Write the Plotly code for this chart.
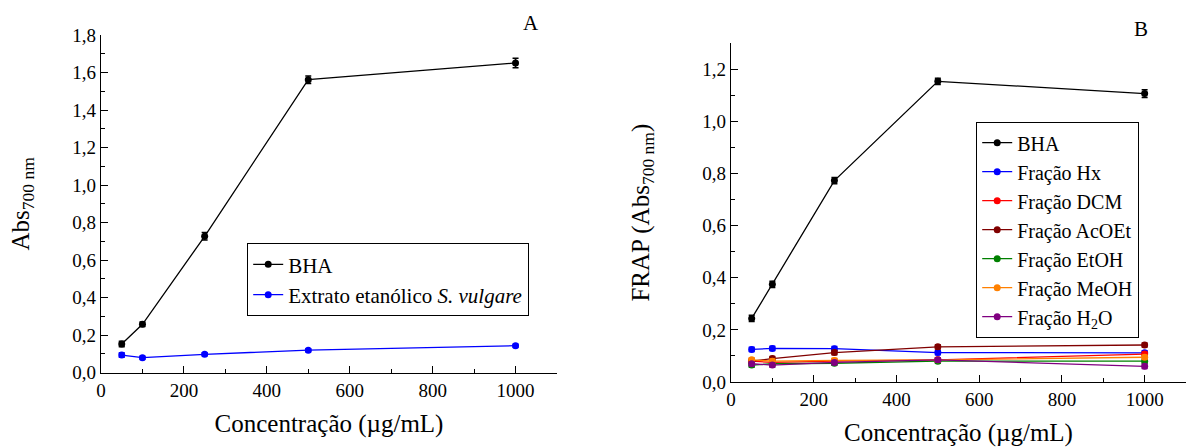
import plotly.graph_objects as go

# ---------- data ----------
conc = [50, 100, 250, 500, 1000]

# Panel A
a_bha = [0.153, 0.258, 0.727, 1.562, 1.651]
a_bha_err = [0.015, 0.012, 0.02, 0.02, 0.025]
a_ext = [0.094, 0.080, 0.098, 0.120, 0.144]
a_ext_err = [0.012, 0.008, 0.008, 0.008, 0.008]

# Panel B
b_bha = [0.244, 0.375, 0.773, 1.154, 1.107]
b_hx = [0.125, 0.129, 0.128, 0.113, 0.112]
b_dcm = [0.080, 0.075, 0.080, 0.085, 0.107]
b_acoet = [0.080, 0.090, 0.113, 0.135, 0.142]
b_etoh = [0.065, 0.070, 0.072, 0.080, 0.080]
b_meoh = [0.085, 0.080, 0.083, 0.085, 0.095]
b_h2o = [0.070, 0.065, 0.075, 0.085, 0.060]
b_err = [0.008, 0.008, 0.008, 0.008, 0.008]
b_bha_err = [0.012, 0.012, 0.012, 0.012, 0.015]

a_names = ["BHA", "Extrato etanólico <i>S. vulgare</i>"]
b_names = ["BHA", "Fração Hx", "Fração DCM", "Fração AcOEt",
           "Fração EtOH", "Fração MeOH", "Fração H<sub>2</sub>O"]
b_colors = ["#000000", "#0000FF", "#FF0000", "#800000",
            "#008000", "#FF8000", "#800080"]

x_ticks = [0, 200, 400, 600, 800, 1000]

FONT = "Liberation Serif"
W, H = 1186, 448

fig = go.Figure()

def add(x, y, err, name, color, xa, ya, legend):
    fig.add_trace(go.Scatter(
        x=x, y=y, name=name, mode="lines+markers",
        line=dict(color=color, width=1.3),
        marker=dict(color=color, size=7, symbol="circle"),
        error_y=dict(type="data", array=err, color=color, thickness=1.5, width=3),
        xaxis=xa, yaxis=ya, legend=legend,
    ))

add(conc, a_bha, a_bha_err, a_names[0], "#000000", "x", "y", "legend")
add(conc, a_ext, a_ext_err, a_names[1], "#0000FF", "x", "y", "legend")

b_series = [b_bha, b_hx, b_dcm, b_acoet, b_etoh, b_meoh, b_h2o]
for i, (s, n, c) in enumerate(zip(b_series, b_names, b_colors)):
    add(conc, s, b_bha_err if i == 0 else b_err, n, c, "x2", "y2", "legend2")

axis_common = dict(
    showline=True, linecolor="black", linewidth=1.2, mirror=False,
    showgrid=False, zeroline=False, automargin=False,
    ticks="inside", ticklen=7, tickwidth=1.2, tickcolor="black",
    tickfont=dict(family=FONT, size=19, color="black"),
)

fig.update_layout(
    width=W, height=H, autosize=False,
    margin=dict(l=0, r=0, t=0, b=0, pad=0, autoexpand=False),
    paper_bgcolor="white", plot_bgcolor="white",
    separators=",.",
    font=dict(family=FONT, color="black"),
    xaxis=dict(domain=[101/W, 557/W], range=[0, 1100], tickvals=x_ticks,
               tickformat="d", anchor="y",
               minor=dict(ticks="inside", ticklen=4, dtick=100, tickcolor="black"),
               title=dict(text="Concentração (µg/mL)", font=dict(family=FONT, size=25), standoff=14),
               **axis_common),
    yaxis=dict(domain=[(H-372.7)/H, (H-35)/H], range=[0, 1.8], dtick=0.2,
               tickformat=".1f", anchor="x",
               minor=dict(ticks="inside", ticklen=4, dtick=0.1, tickcolor="black"),
               title=dict(text="Abs<sub>700 nm</sub>", font=dict(family=FONT, size=25), standoff=35),
               **axis_common),
    xaxis2=dict(domain=[731/W, 1.0], range=[0, 1100], tickvals=x_ticks,
                tickformat="d", anchor="y2",
                minor=dict(ticks="inside", ticklen=4, dtick=100, tickcolor="black"),
                title=dict(text="Concentração (µg/mL)", font=dict(family=FONT, size=25), standoff=14),
                **axis_common),
    yaxis2=dict(domain=[(H-382)/H, (H-43.3)/H], range=[0, 1.3], dtick=0.2,
                tickformat=".1f", anchor="x2",
                minor=dict(ticks="inside", ticklen=4, dtick=0.1, tickcolor="black"),
                title=dict(text="FRAP (Abs<sub>700 nm</sub>)", font=dict(family=FONT, size=25), standoff=45),
                **axis_common),
    legend=dict(x=247/W, y=1-243/H, xanchor="left", yanchor="top",
                bordercolor="black", borderwidth=1.2, bgcolor="white",
                font=dict(family=FONT, size=21), tracegroupgap=0),
    legend2=dict(x=976/W, y=1-122/H, xanchor="left", yanchor="top",
                 bordercolor="black", borderwidth=1.2, bgcolor="white",
                 font=dict(family=FONT, size=20), tracegroupgap=0),
    showlegend=True,
    annotations=[
        dict(text="A", x=531/W, y=1-23/H, xref="paper", yref="paper",
             xanchor="center", yanchor="middle",
             showarrow=False, font=dict(family=FONT, size=21)),
        dict(text="B", x=1141/W, y=1-29/H, xref="paper", yref="paper",
             xanchor="center", yanchor="middle",
             showarrow=False, font=dict(family=FONT, size=21)),
    ],
)

fig.write_html("out.html", config={"displayModeBar": False},
               post_script="document.body.style.margin='0';")
